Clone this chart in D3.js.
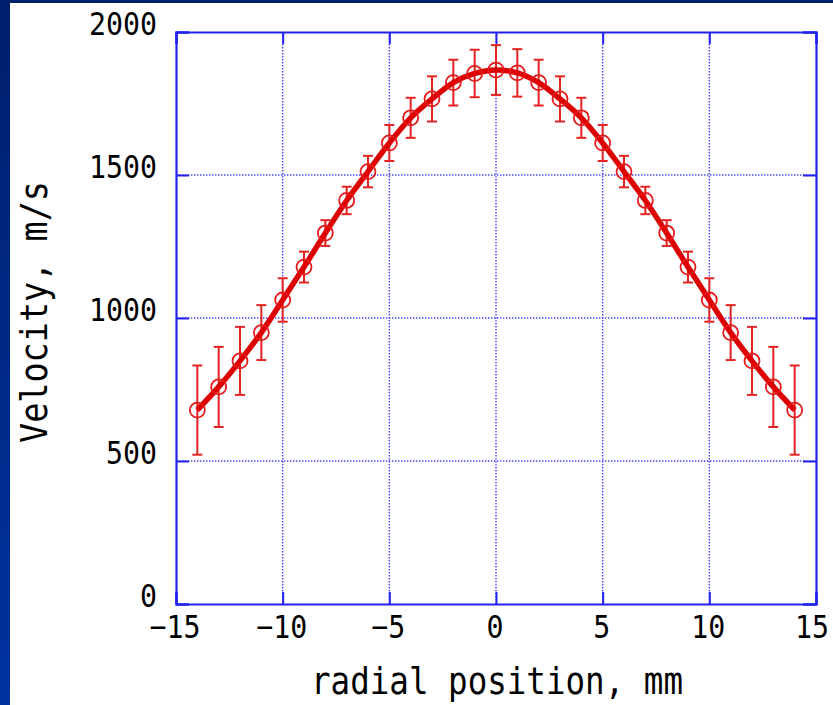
<!DOCTYPE html>
<html>
<head>
<meta charset="utf-8">
<script src="https://cdn.jsdelivr.net/npm/d3@7/dist/d3.min.js"></script>
<style>
  html, body { margin: 0; padding: 0; background: #002070; }
  svg { display: block; }
</style>
</head>
<body>
<svg id="chart" width="833" height="705"></svg>
<script>
// ---- data ----
const positions = [-14,-13,-12,-11,-10,-9,-8,-7,-6,-5,-4,-3,-2,-1,0,1,2,3,4,5,6,7,8,9,10,11,12,13,14];
const velocity  = [678,759,850,949,1063,1178,1297,1411,1512,1612,1700,1766,1823,1855,1867,1857,1823,1766,1700,1612,1512,1411,1297,1178,1063,949,850,759,678];
const errors    = [156,140,119,96,76,54,45,48,55,63,70,79,80,83,87,83,80,79,70,63,55,48,45,54,76,96,119,140,156];
const xTicks = [-15,-10,-5,0,5,10,15];
const yTicks = [0,500,1000,1500,2000];
const xTitle = "radial position, mm";
const yTitle = "Velocity, m/s";

const svg = d3.select("#chart");
const W = 833, H = 705;

// background: dark blue frame with gradient on left
const defs = svg.append("defs");
const lg = defs.append("linearGradient").attr("id","leftgrad").attr("x1",0).attr("y1",0).attr("x2",0).attr("y2",1);
lg.append("stop").attr("offset","0%").attr("stop-color","#001f6c");
lg.append("stop").attr("offset","100%").attr("stop-color","#0033a0");
svg.append("rect").attr("x",0).attr("y",0).attr("width",W).attr("height",H).attr("fill","#00216c");
svg.append("rect").attr("x",0).attr("y",0).attr("width",10).attr("height",H).attr("fill","url(#leftgrad)");
svg.append("rect").attr("x",10).attr("y",3).attr("width",W-10).attr("height",H-3).attr("fill","#ffffff");

const L = 176, R = 816, T = 32, B = 604;
const x = d3.scaleLinear().domain([-15,15]).range([L,R]);
const y = d3.scaleLinear().domain([0,2000]).range([B,T]);

const blue = "#2222ee";
const font = "'DejaVu Sans Mono', monospace";

// grid lines (dotted)
const grid = svg.append("g");
grid.selectAll(".gx").data(xTicks.filter(d => d > -15 && d < 15)).enter().append("line")
  .attr("x1", d => x(d)).attr("x2", d => x(d)).attr("y1", T).attr("y2", B)
  .attr("stroke", "#4444ff").attr("stroke-width", 1.4).attr("stroke-dasharray", "1.4,1.6");
grid.selectAll(".gy").data(yTicks.filter(d => d > 0 && d < 2000)).enter().append("line")
  .attr("y1", d => y(d)).attr("y2", d => y(d)).attr("x1", L).attr("x2", R)
  .attr("stroke", "#4444ff").attr("stroke-width", 1.4).attr("stroke-dasharray", "1.4,1.6");

// axes with inward ticks
const axB = d3.axisBottom(x).tickValues(xTicks).tickSize(-12).tickFormat("");
const axT = d3.axisTop(x).tickValues(xTicks).tickSize(-12).tickFormat("");
const axL = d3.axisLeft(y).tickValues(yTicks).tickSize(-13).tickFormat("");
const axR = d3.axisRight(y).tickValues(yTicks).tickSize(-13).tickFormat("");
function styleAxis(g) {
  g.selectAll("path").attr("stroke", blue).attr("stroke-width", 2.2);
  g.selectAll("line").attr("stroke", blue).attr("stroke-width", 2);
}
svg.append("g").attr("transform",`translate(0,${B})`).call(axB).call(styleAxis);
svg.append("g").attr("transform",`translate(0,${T})`).call(axT).call(styleAxis);
svg.append("g").attr("transform",`translate(${L},0)`).call(axL).call(styleAxis);
svg.append("g").attr("transform",`translate(${R},0)`).call(axR).call(styleAxis);

// tick labels
function fmt(d) { return d < 0 ? "\u2212" + Math.abs(d) : String(d); }
const charW = 17;
svg.append("g").selectAll("text").data(xTicks).enter().append("text")
  .attr("x", d => d === 15 ? x(d) - 4 : x(d) - 1).attr("y", 638)
  .attr("text-anchor","middle")
  .attr("font-family", font).attr("font-size", 32).attr("fill","#000")
  .attr("textLength", d => fmt(d).length * charW).attr("lengthAdjust","spacingAndGlyphs")
  .text(fmt);
svg.append("g").selectAll("text").data(yTicks).enter().append("text")
  .attr("x", 157).attr("y", d => y(d) + 3)
  .attr("text-anchor","end")
  .attr("font-family", font).attr("font-size", 32).attr("fill","#000")
  .attr("textLength", d => fmt(d).length * 17).attr("lengthAdjust","spacingAndGlyphs")
  .text(fmt);

// axis titles
svg.append("text").attr("x", 497).attr("y", 694).attr("text-anchor","middle")
  .attr("font-family", font).attr("font-size", 38).attr("fill","#000")
  .attr("textLength", 372).attr("lengthAdjust","spacingAndGlyphs")
  .text(xTitle);
svg.append("text").attr("transform","translate(47,312) rotate(-90)").attr("text-anchor","middle")
  .attr("font-family", font).attr("font-size", 38).attr("fill","#000")
  .attr("textLength", 262).attr("lengthAdjust","spacingAndGlyphs")
  .text(yTitle);

// data
const pts = positions.map((p,i) => ({p, v: velocity[i], e: errors[i]}));
const red = "#dd0000";

// error bars
const eb = svg.append("g").attr("stroke", "#e52222").attr("stroke-width", 2).attr("fill","none");
pts.forEach(d => {
  const cx = x(d.p), y1 = y(d.v + d.e), y2 = y(d.v - d.e);
  eb.append("line").attr("x1",cx).attr("x2",cx).attr("y1",y1).attr("y2",y2);
  eb.append("line").attr("x1",cx-5).attr("x2",cx+5).attr("y1",y1).attr("y2",y1);
  eb.append("line").attr("x1",cx-5).attr("x2",cx+5).attr("y1",y2).attr("y2",y2);
});

// smooth line
const line = d3.line().x(d => x(d.p)).y(d => y(d.v)).curve(d3.curveCatmullRom.alpha(0.5));
svg.append("path").datum(pts).attr("d", line)
  .attr("fill","none").attr("stroke", red).attr("stroke-width", 5.5).attr("stroke-linejoin","round");

// markers
svg.append("g").selectAll("circle").data(pts).enter().append("circle")
  .attr("cx", d => x(d.p)).attr("cy", d => y(d.v)).attr("r", 7.5)
  .attr("fill","none").attr("stroke", "#e51a1a").attr("stroke-width", 1.8);
</script>
</body>
</html>
